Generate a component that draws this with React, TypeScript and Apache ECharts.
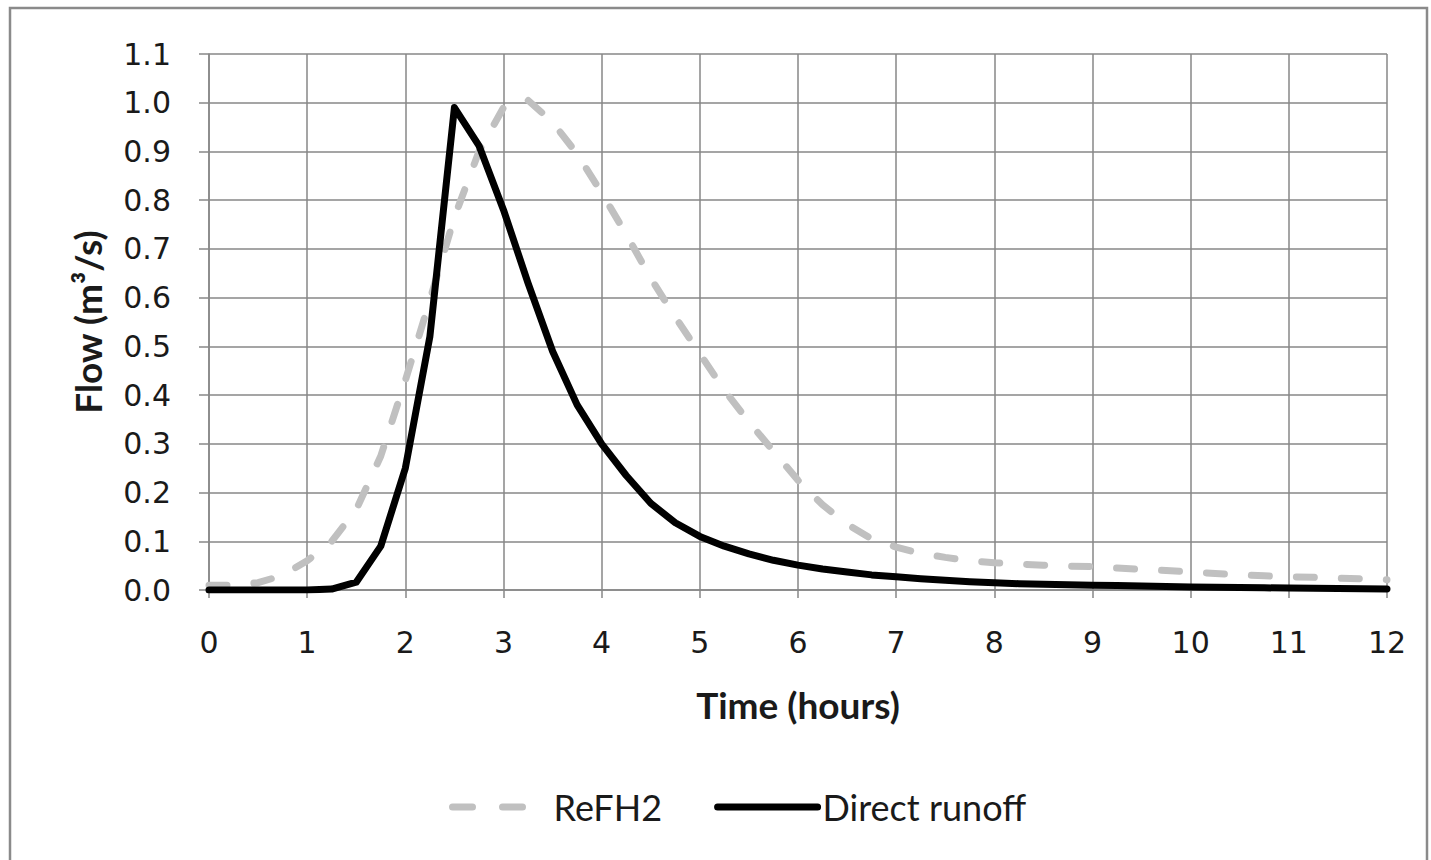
import React, { useEffect, useRef } from "react";
import * as echarts from "echarts";

const timeHours = [
  0, 0.25, 0.5, 0.75, 1, 1.25, 1.5, 1.75, 2, 2.25, 2.5, 2.75, 3, 3.25, 3.5, 3.75,
  4, 4.25, 4.5, 4.75, 5, 5.25, 5.5, 5.75, 6, 6.25, 6.5, 6.75, 7, 7.25, 7.5, 7.75,
  8, 8.25, 8.5, 8.75, 9, 9.25, 9.5, 9.75, 10, 10.25, 10.5, 10.75, 11, 11.25, 11.5, 11.75, 12,
];

const refh2Flow = [
  0.01, 0.01, 0.015, 0.03, 0.06, 0.1, 0.165, 0.275, 0.43, 0.595, 0.765, 0.9, 0.99, 1.005, 0.96, 0.895,
  0.815, 0.73, 0.64, 0.56, 0.485, 0.41, 0.345, 0.285, 0.225, 0.175, 0.135, 0.105, 0.088, 0.075, 0.067, 0.06,
  0.056, 0.053, 0.051, 0.049, 0.048, 0.045, 0.042, 0.04, 0.037, 0.034, 0.031, 0.029, 0.027, 0.026, 0.024, 0.023, 0.021,
];

const directRunoff = [
  0, 0, 0, 0, 0, 0.002, 0.016, 0.09, 0.25, 0.52, 0.99, 0.912, 0.78, 0.63, 0.49, 0.38,
  0.3, 0.235, 0.178, 0.138, 0.11, 0.09, 0.074, 0.061, 0.051, 0.043, 0.037, 0.031, 0.027, 0.023, 0.02, 0.017,
  0.015, 0.013, 0.012, 0.011, 0.01, 0.009, 0.008, 0.007, 0.006, 0.0055, 0.005, 0.0045, 0.004, 0.0035, 0.003, 0.0025, 0.002,
];

const seriesNames = ["ReFH2", "Direct runoff"];
const xAxisTitle = "Time (hours)";
const yAxisTitle = "Flow (m³/s)";

export default function App() {
  const ref = useRef<HTMLDivElement>(null);
  useEffect(() => {
    if (!ref.current) return;
    document.body.style.margin = "0";
    const chart = echarts.init(ref.current, null, { renderer: "svg" });
    const tickFont = "'DejaVu Sans', Verdana, sans-serif";
    const titleFont = "Lato, 'Open Sans', sans-serif";
    const gridColor = "#878787";
    chart.setOption({
      animation: false,
      backgroundColor: "#ffffff",
      graphic: [
        {
          type: "rect",
          shape: { x: 10, y: 8, width: 1417, height: 880 },
          style: { fill: "none", stroke: "#8a8a8a", lineWidth: 2.5 },
          silent: true,
        },
      ],
      grid: { left: 209, right: 44, top: 54, bottom: 270 },
      legend: {
        left: 440,
        bottom: 30,
        itemWidth: 100,
        itemHeight: 14,
        itemGap: 52,
        itemStyle: { color: "transparent", borderWidth: 0, opacity: 0 },
        lineStyle: { width: 7, cap: "round" },
        textStyle: { fontFamily: titleFont, fontSize: 36, color: "#1a1a1a" },
        data: [
          { name: seriesNames[0], lineStyle: { type: [20, 30], dashOffset: -4 } },
          { name: seriesNames[1] },
        ],
      },
      xAxis: {
        type: "value",
        min: 0,
        max: 12,
        interval: 1,
        name: xAxisTitle,
        nameLocation: "middle",
        nameGap: 96,
        nameTextStyle: { fontFamily: titleFont, fontSize: 37, fontWeight: "bold", color: "#1a1a1a" },
        axisLine: { onZero: false, lineStyle: { color: gridColor, width: 1.5 } },
        axisTick: { show: true, length: 8, lineStyle: { color: gridColor, width: 1.5 } },
        axisLabel: { fontFamily: tickFont, fontSize: 30, color: "#1a1a1a", margin: 37 },
        splitLine: { show: true, lineStyle: { color: gridColor, width: 1.5 } },
      },
      yAxis: {
        type: "value",
        min: 0,
        max: 1.1,
        interval: 0.1,
        name: yAxisTitle,
        nameLocation: "middle",
        nameGap: 103,
        nameTextStyle: { fontFamily: titleFont, fontSize: 37, fontWeight: "bold", color: "#1a1a1a" },
        axisLine: { show: true, lineStyle: { color: gridColor, width: 1.5 } },
        axisTick: { show: true, length: 10, lineStyle: { color: gridColor, width: 1.5 } },
        axisLabel: {
          fontFamily: tickFont,
          fontSize: 30,
          color: "#1a1a1a",
          margin: 38,
          formatter: (v: number) => v.toFixed(1),
        },
        splitLine: { show: true, lineStyle: { color: gridColor, width: 1.5 } },
      },
      series: [
        {
          name: seriesNames[0],
          type: "line",
          showSymbol: false,
          symbol: "none",
          data: timeHours.map((t, i) => [t, refh2Flow[i]]),
          lineStyle: { color: "#c0c0c0", width: 7, type: [18, 27], cap: "round" },
          itemStyle: { color: "#c0c0c0" },
        },
        {
          name: seriesNames[1],
          type: "line",
          showSymbol: false,
          symbol: "none",
          data: timeHours.map((t, i) => [t, directRunoff[i]]),
          lineStyle: { color: "#000000", width: 7, cap: "round", join: "round" },
          itemStyle: { color: "#000000" },
        },
      ],
    });
    return () => chart.dispose();
  }, []);
  return (
    <div
      ref={ref}
      style={{ position: "absolute", left: 0, top: 0, width: 1431, height: 860, overflow: "hidden" }}
    />
  );
}
